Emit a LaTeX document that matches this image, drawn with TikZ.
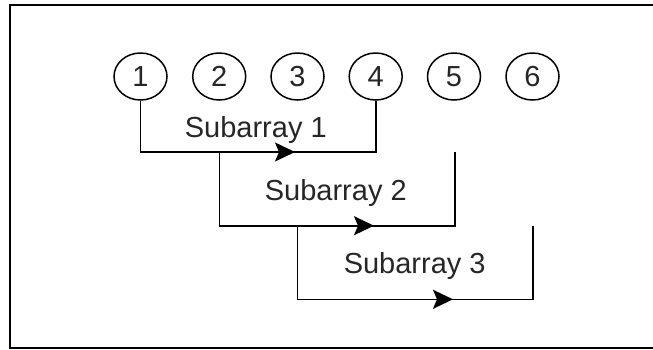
\documentclass[tikz,border=0pt]{standalone}
\usepackage{fontspec}
\setmainfont{Liberation Sans}
\usetikzlibrary{shapes.geometric,arrows.meta}
\begin{document}
\begin{tikzpicture}[x=1pt,y=-1pt,
  conn/.style={line width=1.6pt, draw=black, line join=miter},
  num/.style={ellipse, draw, line width=1.5pt, minimum width=53pt, minimum height=47pt, inner sep=0pt, font=\fontsize{29}{34}\selectfont, text=black!85},
  lbl/.style={anchor=base, inner sep=0pt, font=\fontsize{29}{34}\selectfont, text=black!85},
  tipline/.style={-{Stealth[length=20pt,width=19pt,inset=4pt]}, line width=1.6pt}]
\useasboundingbox (0,0) rectangle (653,349);
% frame (right side lies outside the picture)
\draw[line width=2pt] (656,5) -- (10,5) -- (10,347.5) -- (656,347.5);
% elements
\node[num] (n1) at (140.5,76.5) {1};
\node[num] (n2) at (219.2,76.5) {2};
\node[num] (n3) at (297.5,76.5) {3};
\node[num] (n4) at (375.7,76.5) {4};
\node[num] (n5) at (454.0,76.5) {5};
\node[num] (n6) at (532.5,76.5) {6};
% subarray 1
\coordinate (b1) at (140.5,152);
\coordinate (e1) at (375.7,152);
\coordinate (t1) at (295,152);
\draw[conn] (n1.south) -- (b1) -- (e1) -- (n4.south);
\draw[tipline] (b1) -- (t1);
\node[lbl] (l1) at (255.8,137.3) {Subarray 1};
% subarray 2
\coordinate (a2) at (219.3,152);
\coordinate (b2) at (219.3,225.7);
\coordinate (e2) at (455,225.7);
\coordinate (f2) at (455,152);
\coordinate (t2) at (374,225.7);
\draw[conn] (a2) -- (b2) -- (e2) -- (f2);
\draw[tipline] (b2) -- (t2);
\node[lbl] (l2) at (335.8,200) {Subarray 2};
% subarray 3
\coordinate (a3) at (297.3,225.7);
\coordinate (b3) at (297.3,299.3);
\coordinate (e3) at (532.7,299.3);
\coordinate (f3) at (532.7,225.7);
\coordinate (t3) at (453,299.3);
\draw[conn] (a3) -- (b3) -- (e3) -- (f3);
\draw[tipline] (b3) -- (t3);
\node[lbl] (l3) at (414.7,273.3) {Subarray 3};
\end{tikzpicture}
\end{document}
